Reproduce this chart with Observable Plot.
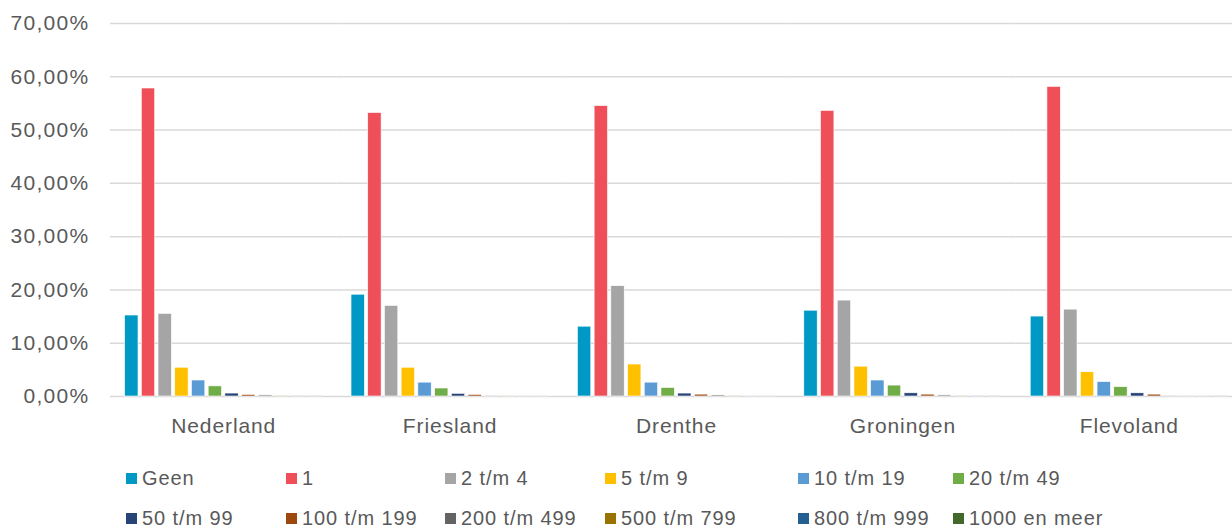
<!DOCTYPE html>
<html>
<head>
<meta charset="utf-8">
<script src="https://cdn.jsdelivr.net/npm/d3@7"></script>
<script src="https://cdn.jsdelivr.net/npm/@observablehq/plot@0.6"></script>
<style>
  html, body { margin: 0; padding: 0; background: #fff; overflow: hidden; }
  #wrap { position: relative; width: 1232px; height: 530px; overflow: hidden; font-family: "Liberation Sans", Arial, sans-serif; color: #595959; }
  #chart { position: absolute; left: 0; top: 0; }
  #chart svg { max-width: none !important; }
  #chart g[aria-label="y-axis tick label"] text { letter-spacing: 1.3px; }
  #chart g[aria-label="fx-axis tick label"] text { letter-spacing: 0.9px; }
  #legend { position: absolute; left: 126px; top: 458px; display: grid;
            grid-template-columns: 160px 159px 160px 193px 155px 200px; grid-auto-rows: 40px; }
  .item { display: flex; align-items: center; font-size: 20px; white-space: nowrap; letter-spacing: 0.9px; }
  .sw { width: 11px; height: 11px; margin-right: 5px; flex: none; }
</style>
</head>
<body>
<div id="wrap">
  <div id="chart"></div>
  <div id="legend"></div>
</div>
<script>
// Categories (number of employees) and their colours
const categories = ["Geen", "1", "2 t/m 4", "5 t/m 9", "10 t/m 19", "20 t/m 49",
  "50 t/m 99", "100 t/m 199", "200 t/m 499", "500 t/m 799", "800 t/m 999", "1000 en meer"];
const colors = ["#0099C6", "#EF4F58", "#A5A5A5", "#FFC000", "#5B9BD5", "#70AD47",
  "#264478", "#9E480E", "#636363", "#997300", "#255E91", "#43682B"];

// Regions
const regions = ["Nederland", "Friesland", "Drenthe", "Groningen", "Flevoland"];

// Shares in percent, one array per region (order = categories)
const nederland = [15.2, 57.8, 15.5, 5.4, 3.0, 1.9, 0.55, 0.3, 0.2, 0.05, 0.03, 0.04];
const friesland = [19.1, 53.2, 17.0, 5.4, 2.6, 1.5, 0.5, 0.3, 0.05, 0.03, 0.02, 0.02];
const drenthe   = [13.1, 54.5, 20.7, 6.0, 2.6, 1.6, 0.55, 0.35, 0.2, 0.04, 0.02, 0.02];
const groningen = [16.1, 53.6, 18.0, 5.6, 3.0, 2.05, 0.6, 0.35, 0.2, 0.04, 0.03, 0.03];
const flevoland = [15.0, 58.1, 16.3, 4.55, 2.7, 1.75, 0.6, 0.35, 0.05, 0.03, 0.02, 0.03];

// Y-axis ticks (fractions)
const yTicks = [0, 0.1, 0.2, 0.3, 0.4, 0.5, 0.6, 0.7];

const series = [nederland, friesland, drenthe, groningen, flevoland];
const data = [];
regions.forEach((r, i) => categories.forEach((c, j) => data.push({region: r, category: c, value: series[i][j] / 100})));

const nl = d3.formatLocale({decimal: ",", thousands: ".", grouping: [3], currency: ["€ ", ""]});
const pct = nl.format(".2%");

const font = '"Liberation Sans", Arial, sans-serif';

const chart = Plot.plot({
  width: 1242,
  height: 450,
  marginLeft: 110,
  marginRight: 0,
  marginTop: 23,
  marginBottom: 54,
  style: {fontFamily: font, fontSize: "20px", color: "#595959", background: "transparent", overflow: "visible", maxWidth: "none"},
  fx: {domain: regions, paddingInner: 0, paddingOuter: 0, round: false, label: null, axis: null},
  x: {domain: categories, paddingInner: 0.2, paddingOuter: 0.875, round: false, axis: null},
  y: {domain: [0, 0.7], axis: null},
  color: {domain: categories, range: colors},
  marks: [
    Plot.gridY(yTicks, {stroke: "#d9d9d9", strokeOpacity: 1, strokeWidth: 1.5}),
    Plot.axisY(yTicks, {tickSize: 0, tickPadding: 21, tickFormat: pct, fill: "#595959", fontSize: 21, label: null}),
    Plot.barY(data, {fx: "region", x: "category", y: "value", fill: "category", stroke: "white", strokeWidth: 0.6}),
    Plot.axisFx({anchor: "bottom", tickSize: 0, tickPadding: 22, fill: "#595959", fontSize: 21, label: null})
  ]
});
document.getElementById("chart").appendChild(chart);

const legend = document.getElementById("legend");
categories.forEach((c, i) => {
  const it = document.createElement("div");
  it.className = "item";
  const sw = document.createElement("span");
  sw.className = "sw";
  sw.style.background = colors[i];
  it.appendChild(sw);
  it.appendChild(document.createTextNode(c));
  legend.appendChild(it);
});
</script>
</body>
</html>
